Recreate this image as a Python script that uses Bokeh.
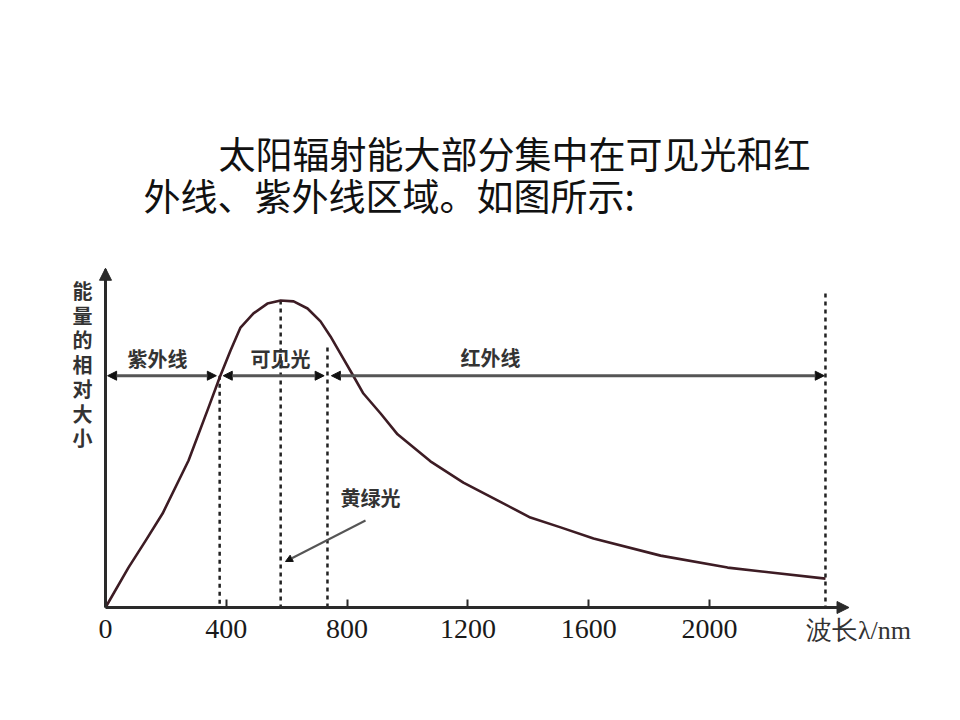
from bokeh.plotting import figure
from bokeh.models import Range1d, FixedTicker, Label, Arrow, NormalHead, ColumnDataSource
from bokeh.embed import file_html
from bokeh.resources import INLINE

# ---------------- data ----------------
wavelength = [0, 76, 133, 189, 275, 341, 378, 414, 447, 490, 536, 580, 623, 669,
              712, 745, 778, 818, 854, 911, 967, 1076, 1185, 1298, 1407, 1507,
              1616, 1838, 2060, 2384]
energy = [0, 13.0, 21.8, 30.6, 47.9, 65.1, 74.9, 83.7, 91.2, 95.8, 99.0, 100.0,
          99.7, 97.4, 93.2, 88.3, 82.7, 75.9, 69.7, 63.2, 56.4, 47.6, 40.7, 34.9,
          29.3, 26.1, 22.5, 16.9, 13.0, 9.4]

tick_values = [0, 400, 800, 1200, 1600, 2000]
# vertical dashed marker lines: UV/visible boundary, peak (yellow-green), visible/IR boundary, end
marker_x = [378, 580, 735, 2384]
marker_top = [75.5, 100.0, 84.7, 102.3]

band_names = ["紫外线", "可见光", "红外线"]
band_start = [7, 390, 748]
band_end = [367, 724, 2380]
band_level = 75.5

title_lines = ["太阳辐射能大部分集中在可见光和红", "外线、紫外线区域。如图所示:"]
y_label = "能量的相对大小"
x_label = "波长λ/nm"
peak_label = "黄绿光"

# ---------------- layout helpers (pixel -> data) ----------------
ORIGIN_PX, ORIGIN_PY = 105, 607
W, H = 960, 720
XS = 0.302   # px per nm
YS = 3.07    # px per unit
def X(px):
    return (px - ORIGIN_PX) / XS
def Y(py):
    return (ORIGIN_PY - py) / YS

p = figure(width=W, height=H, output_backend="svg", toolbar_location=None,
           x_range=Range1d(X(0), X(W)), y_range=Range1d(Y(H), Y(0)),
           min_border=0)
p.background_fill_color = "white"
p.border_fill_color = "white"
p.outline_line_color = None
p.grid.visible = False

ax_col = "#2a2a2a"
# x axis (drawn at y = 0)
xa = p.xaxis[0]
xa.fixed_location = 0
xa.ticker = FixedTicker(ticks=tick_values)
xa.bounds = (0, 2455)
xa.axis_line_width = 3
xa.axis_line_color = ax_col
xa.major_tick_in = 8
xa.major_tick_out = 0
xa.major_tick_line_width = 2
xa.major_tick_line_color = ax_col
xa.minor_tick_line_color = None
xa.major_label_text_font = "Liberation Serif"
xa.major_label_text_font_size = "28px"
xa.major_label_text_color = "#1a1a1a"
xa.major_label_standoff = 12
# y axis (drawn at x = 0)
ya = p.yaxis[0]
ya.fixed_location = 0
ya.bounds = (0, 110)
ya.axis_line_width = 3
ya.axis_line_color = ax_col
ya.major_tick_line_color = None
ya.minor_tick_line_color = None
ya.major_label_text_color = None
ya.major_label_text_font_size = "1px"

# axis arrowheads
p.add_layout(Arrow(x_start=2400, y_start=0, x_end=2462, y_end=0, line_width=3, line_color=ax_col,
                   end=NormalHead(size=12, fill_color=ax_col, line_color=ax_col)))
p.add_layout(Arrow(x_start=0, y_start=100, x_end=0, y_end=110.5, line_width=3, line_color=ax_col,
                   end=NormalHead(size=12, fill_color=ax_col, line_color=ax_col)))

# dashed marker lines
p.segment(x0=marker_x, y0=marker_top, x1=marker_x, y1=[0] * len(marker_x),
          line_color="#222222", line_width=2.5, line_dash="4 4")

# band arrows along the horizontal level
for s, e in zip(band_start, band_end):
    p.add_layout(Arrow(x_start=s, y_start=band_level, x_end=e, y_end=band_level,
                       line_color="#555555", line_width=3,
                       start=NormalHead(size=9, fill_color="#111111", line_color="#111111"),
                       end=NormalHead(size=9, fill_color="#111111", line_color="#111111")))

# the curve
src = ColumnDataSource(dict(x=wavelength, y=energy))
p.line("x", "y", source=src, line_color="#3d1c24", line_width=2.6, line_join="round")

# band labels
band_label_px = [(157, 358), (280, 358), (490, 357)]
for name, (lx, ly) in zip(band_names, band_label_px):
    p.add_layout(Label(x=X(lx), y=Y(ly), text=name, text_align="center", text_baseline="middle",
                       text_font="Noto Sans CJK SC", text_font_size="20px", text_font_style="bold",
                       text_color="#333333"))

# yellow-green pointer
p.add_layout(Label(x=X(370), y=Y(497), text=peak_label, text_align="center", text_baseline="middle",
                   text_font="Noto Sans CJK SC", text_font_size="20px", text_font_style="bold",
                   text_color="#333333"))
p.add_layout(Arrow(x_start=X(365), y_start=Y(520), x_end=X(285), y_end=Y(561),
                   line_color="#555555", line_width=2,
                   end=NormalHead(size=7, fill_color="#111111", line_color="#111111")))

# y label (vertical stacked characters)
for i, ch in enumerate(y_label):
    p.add_layout(Label(x=X(82), y=Y(290 + i * 24.5), text=ch, text_align="center",
                       text_baseline="middle", text_font="Noto Sans CJK SC",
                       text_font_size="20px", text_font_style="bold", text_color="#333333"))

# x label
p.add_layout(Label(x=X(858), y=Y(630), text=x_label, text_align="center", text_baseline="middle",
                   text_font="Liberation Serif", text_font_size="26px", text_color="#333333"))

# title text
p.add_layout(Label(x=X(218), y=Y(152), text=title_lines[0], text_align="left", text_baseline="middle",
                   text_font="Noto Sans CJK SC", text_font_size="37px", text_color="#111111"))
p.add_layout(Label(x=X(143), y=Y(194), text=title_lines[1], text_align="left", text_baseline="middle",
                   text_font="Noto Sans CJK SC", text_font_size="37px", text_color="#111111"))

open("out.html", "w").write(file_html(p, INLINE))
